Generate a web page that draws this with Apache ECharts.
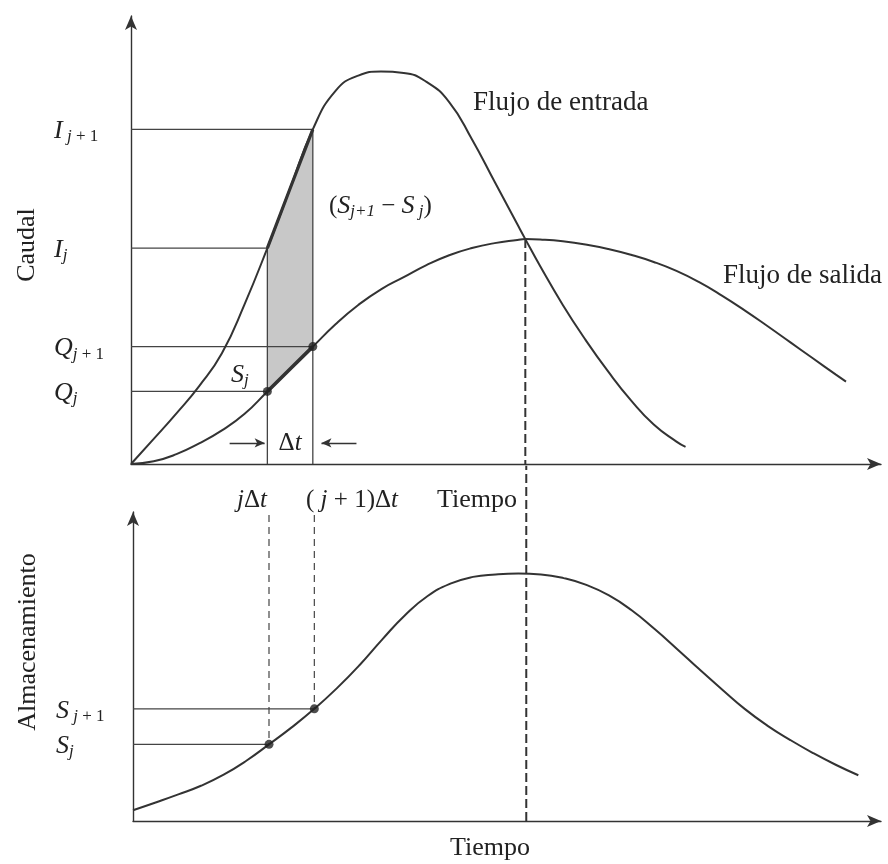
<!DOCTYPE html>
<html>
<head>
<meta charset="utf-8">
<script src="https://cdn.jsdelivr.net/npm/echarts@6/dist/echarts.min.js"></script>
<style>
html,body{margin:0;padding:0;background:#fff;}
#c{width:888px;height:864px;}
</style>
</head>
<body>
<div id="c"></div>
<script>
// ---- data (time units, flow / storage units) ----
const tIn  = [0, 1, 2, 3, 4, 5, 6, 7, 8, 9, 10, 11, 12, 13, 14, 15, 16, 17, 17.35, 18, 19, 20, 21, 22, 23, 24, 24.4];
const qIn  = [0, 0.56, 1.13, 1.74, 2.47, 3.57, 4.82, 6.15, 7.47, 8.33, 8.67, 8.76, 8.73, 8.53, 8.08, 7.25, 6.3, 5.35, 5.02, 4.42, 3.55, 2.77, 2.06, 1.42, 0.88, 0.5, 0.38];
const tOut = [0, 1, 2, 3, 4, 5, 6, 7, 8, 9, 10, 11, 12, 13, 14, 15, 16, 17, 17.35, 18, 19, 20, 21, 22, 23, 24, 25, 26, 27, 28, 29, 30, 31, 31.46];
const qOut = [0, 0.06, 0.22, 0.46, 0.75, 1.12, 1.62, 2.12, 2.62, 3.12, 3.55, 3.9, 4.17, 4.44, 4.66, 4.82, 4.93, 5.0, 5.02, 5.01, 4.97, 4.9, 4.8, 4.67, 4.51, 4.31, 4.06, 3.76, 3.43, 3.08, 2.72, 2.36, 2.0, 1.84];
const tSto = [0, 1, 2, 3, 4, 5, 6, 7, 8, 9, 10, 11, 12, 13, 14, 15, 16, 17, 18, 19, 20, 21, 22, 23, 24, 25, 26, 27, 28, 29, 30, 31, 32];
const sSto = [0.35, 0.6, 0.86, 1.14, 1.5, 1.95, 2.48, 3.03, 3.63, 4.3, 5.05, 5.88, 6.66, 7.28, 7.68, 7.9, 7.98, 8.01, 7.98, 7.86, 7.64, 7.3, 6.82, 6.22, 5.57, 4.9, 4.25, 3.62, 3.08, 2.62, 2.2, 1.82, 1.48];
const tJ = 6, tJ1 = 8, tPeak = 17.35;
const shadeT   = [6, 7, 8];
const shadeIn  = [4.82, 6.15, 7.47];
const shadeOut = [1.62, 2.12, 2.62];
const Ij = 4.82, Ij1 = 7.47, Qj = 1.62, Qj1 = 2.62, Sj = 2.48, Sj1 = 3.63;
const axisMaxT = 33, axisMaxY = 10;
const dtArrowY = 0.47;
const dtArrows = [[4.34, 5.88], [9.92, 8.38]];
const dashTopY = 9.9;

const zip = (a, b) => a.map((v, i) => [v, b[i]]);
const INK = '#333';
const FONT = "'Liberation Serif','DejaVu Serif',serif";

function seg(grid, pts, opts) {
  return Object.assign({
    type: 'line', xAxisIndex: grid, yAxisIndex: grid, data: pts, symbol: 'none',
    silent: true, animation: false, z: 3,
    lineStyle: { color: '#444', width: 1.3 }
  }, opts || {});
}

const axisCommon = {
  type: 'value', min: 0,
  axisLine: { show: true, onZero: true, symbol: ['none', 'arrow'], symbolSize: [9, 14], lineStyle: { color: INK, width: 1.4 } },
  axisTick: { show: false }, axisLabel: { show: false }, splitLine: { show: false }
};

const series = [
  // shaded storage increment between outflow and inflow over one time step
  {
    type: 'custom', xAxisIndex: 0, yAxisIndex: 0, silent: true, animation: false, z: 1,
    data: [[tJ, 0]],
    renderItem: function (params, api) {
      const up = shadeT.map((t, i) => api.coord([t, shadeIn[i]]));
      const dn = shadeT.map((t, i) => api.coord([t, shadeOut[i]])).reverse();
      return { type: 'polygon', shape: { points: up.concat(dn) }, style: { fill: '#c8c8c8' } };
    }
  },
  // reference lines top
  seg(0, [[0, Ij1], [tJ1, Ij1]]),
  seg(0, [[0, Ij], [tJ, Ij]]),
  seg(0, [[0, Qj1], [tJ1, Qj1]]),
  seg(0, [[0, Qj], [tJ, Qj]]),
  seg(0, [[tJ, 0], [tJ, Ij]]),
  seg(0, [[tJ1, 0], [tJ1, Ij1]]),
  // curves top
  seg(0, zip(tIn, qIn), { smooth: 0.5, lineStyle: { color: INK, width: 2 } }),
  seg(0, zip(tOut, qOut), { smooth: 0.5, lineStyle: { color: INK, width: 2 } }),
  // bold segments
  seg(0, zip(shadeT, shadeIn), { lineStyle: { color: INK, width: 3.2 } }),
  seg(0, zip(shadeT, shadeOut), { lineStyle: { color: INK, width: 3.6 } }),
  // dashed peak line
  seg(0, [[tPeak, qOut[tOut.indexOf(tPeak)]], [tPeak, 0]], { lineStyle: { color: INK, width: 2, type: [9, 4] } }),
  seg(1, [[tPeak, 0], [tPeak, 11.5]], { clip: false, lineStyle: { color: INK, width: 2, type: [9, 4] } }),
  // dots
  { type: 'scatter', xAxisIndex: 0, yAxisIndex: 0, data: [[tJ, Qj], [tJ1, Qj1]], symbolSize: 9, itemStyle: { color: '#222' }, silent: true, animation: false, z: 5 },
  // delta t arrows
  seg(0, [[tJ, dtArrowY]], {
    lineStyle: { opacity: 0 },
    markLine: {
      silent: true, animation: false, symbol: ['none', 'arrow'], symbolSize: [7, 10],
      lineStyle: { color: INK, width: 1.3, type: 'solid' }, label: { show: false },
      data: dtArrows.map(a => [{ coord: [a[0], dtArrowY] }, { coord: [a[1], dtArrowY] }])
    }
  }),
  // bottom chart
  seg(1, [[0, Sj1], [tJ1, Sj1]]),
  seg(1, [[0, Sj], [tJ, Sj]]),
  seg(1, [[tJ, dashTopY], [tJ, Sj]], { lineStyle: { color: '#444', width: 1.2, type: [7, 5] } }),
  seg(1, [[tJ1, dashTopY], [tJ1, Sj1]], { lineStyle: { color: '#444', width: 1.2, type: [7, 5] } }),
  seg(1, zip(tSto, sSto), { smooth: 0.5, lineStyle: { color: INK, width: 2 } }),
  { type: 'scatter', xAxisIndex: 1, yAxisIndex: 1, data: [[tJ, Sj], [tJ1, Sj1]], symbolSize: 9, itemStyle: { color: '#222' }, silent: true, animation: false, z: 5 }
];

const chart = echarts.init(document.getElementById('c'), null, { renderer: 'canvas' });
chart.setOption({
  backgroundColor: '#fff',
  animation: false,
  grid: [
    { left: 131, right: 7, top: 16, bottom: 400 },
    { left: 133, right: 7, top: 512, bottom: 43 }
  ],
  xAxis: [
    Object.assign({}, axisCommon, { gridIndex: 0, max: axisMaxT }),
    Object.assign({}, axisCommon, { gridIndex: 1, max: axisMaxT })
  ],
  yAxis: [
    Object.assign({}, axisCommon, { gridIndex: 0, max: axisMaxY }),
    Object.assign({}, axisCommon, { gridIndex: 1, max: axisMaxY })
  ],
  series: series
});

// ---- text annotations, placed from the data via the axes ----
const P0 = p => chart.convertToPixel({ gridIndex: 0 }, p);
const P1 = p => chart.convertToPixel({ gridIndex: 1 }, p);
const rich = {
  m: { fontFamily: FONT, fontSize: 26, fontStyle: 'italic', lineHeight: 28, color: '#222' },
  si: { fontFamily: FONT, fontSize: 17, fontStyle: 'italic', lineHeight: 20, verticalAlign: 'bottom', color: '#222' },
  su: { fontFamily: FONT, fontSize: 17, lineHeight: 20, verticalAlign: 'bottom', color: '#222' },
  n: { fontFamily: FONT, fontSize: 25, lineHeight: 28, color: '#222' },
  i: { fontFamily: FONT, fontSize: 25, fontStyle: 'italic', lineHeight: 28, color: '#222' }
};
function txt(text, x, y, align, extra) {
  return Object.assign({
    type: 'text', x: x, y: y, silent: true, z: 100,
    style: { text: text, rich: rich, align: align || 'left', verticalAlign: 'middle', fontFamily: FONT, fontSize: 26, fill: '#222' }
  }, extra || {});
}
const lx = 54;
const g = [
  txt('{m|I}{si| j}{su| + 1}', lx, P0([0, Ij1])[1] + 2),
  txt('{m|I}{si|j}', lx, P0([0, Ij])[1] + 2),
  txt('{m|Q}{si|j}{su| + 1}', lx, P0([0, Qj1])[1] + 2),
  txt('{m|Q}{si|j}', lx, P0([0, Qj])[1] + 2),
  txt('{m|S}{si|j}', 231, P0([0, Qj])[1] - 16),
  txt('{n|(}{m|S}{si|j+1}{n| − }{m|S}{si| j}{n|)}', 329, 206),
  txt('{n|Δ}{i|t}', (P0([tJ, 0])[0] + P0([tJ1, 0])[0]) / 2, P0([0, dtArrowY])[1], 'center'),
  txt('{i|j}{n|Δ}{i|t}', 252, 500, 'center'),
  txt('{n|( }{i|j}{n| + 1)Δ}{i|t}', 352, 500, 'center'),
  txt('Tiempo', 477, 500, 'center'),
  txt('Tiempo', 490, 848, 'center'),
  txt('Flujo de entrada', 473, 103, 'left', { style: { text: 'Flujo de entrada', fontFamily: FONT, fontSize: 27, fill: '#222', verticalAlign: 'middle' } }),
  txt('Flujo de salida', 723, 276, 'left', { style: { text: 'Flujo de salida', fontFamily: FONT, fontSize: 27, fill: '#222', verticalAlign: 'middle' } }),
  txt('Caudal', 27, 245, 'center', { rotation: Math.PI / 2 }),
  txt('Almacenamiento', 28, 642, 'center', { rotation: Math.PI / 2 }),
  txt('{m|S}{si| j}{su| + 1}', 56, P1([0, Sj1])[1] + 2),
  txt('{m|S}{si|j}', 56, P1([0, Sj])[1] + 2)
];
chart.setOption({ graphic: g });
</script>
</body>
</html>
